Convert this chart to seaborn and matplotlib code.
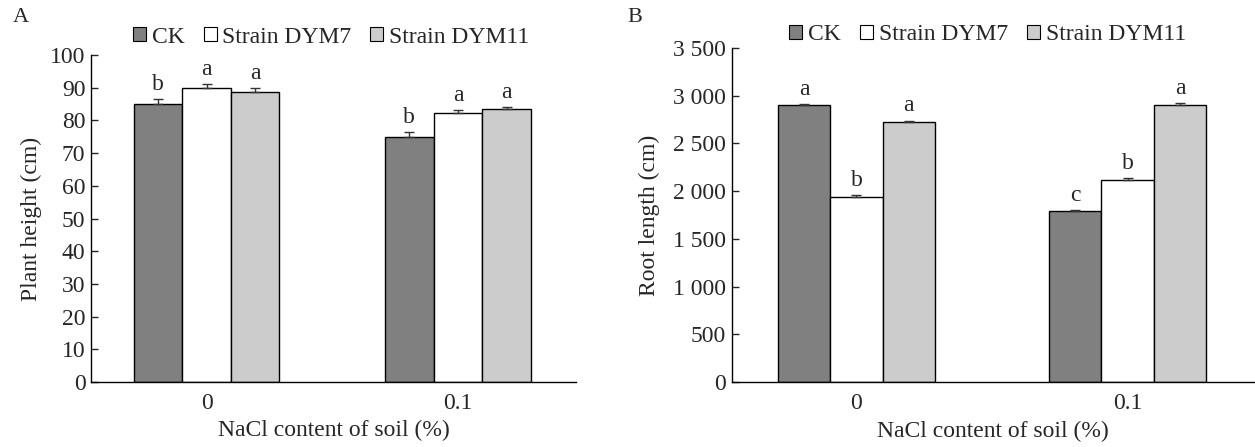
import numpy as np
import pandas as pd
import matplotlib
matplotlib.use("Agg")
import matplotlib.pyplot as plt
import seaborn as sns
from matplotlib.patches import Patch
from matplotlib.ticker import FuncFormatter

# values
nacl = ["0", "0.1"]
treatments = ["CK", "Strain DYM7", "Strain DYM11"]
colors = ["#808080", "#ffffff", "#cccccc"]

height_mean = {"CK": [85.0, 75.0], "Strain DYM7": [90.0, 82.2], "Strain DYM11": [88.8, 83.4]}
height_err = {"CK": [1.5, 1.5], "Strain DYM7": [1.0, 1.0], "Strain DYM11": [1.0, 0.8]}
height_letters = {"CK": ["b", "b"], "Strain DYM7": ["a", "a"], "Strain DYM11": ["a", "a"]}

root_mean = {"CK": [2900, 1790], "Strain DYM7": [1940, 2120], "Strain DYM11": [2720, 2900]}
root_err = {"CK": [15, 15], "Strain DYM7": [15, 15], "Strain DYM11": [20, 25]}
root_letters = {"CK": ["a", "c"], "Strain DYM7": ["b", "b"], "Strain DYM11": ["a", "a"]}


def to_long(means):
    rows = []
    for t in treatments:
        for n, v in zip(nacl, means[t]):
            rows.append({"NaCl": n, "Treatment": t, "value": v})
    return pd.DataFrame(rows)


sns.set_style("white")
plt.rcParams["font.family"] = ["Liberation Serif", "DejaVu Serif"]

fig = plt.figure(figsize=(12.55, 4.47), dpi=100)
ax1 = fig.add_axes([0.0725, 0.1454, 0.3865, 0.7315])
ax2 = fig.add_axes([0.583, 0.1454, 0.417, 0.7472])


def draw(ax, means, errs, letters, ylim, step, ylabel, ylab_x, leg_x, leg_y, fmt=None):
    df = to_long(means)
    sns.barplot(data=df, x="NaCl", y="value", hue="Treatment", order=nacl,
                hue_order=treatments, palette=colors, width=0.58, errorbar=None,
                edgecolor="black", linewidth=1.0, ax=ax, legend=False)
    for t, cont in zip(treatments, ax.containers):
        xs = [p.get_x() + p.get_width() / 2 for p in cont.patches]
        ys = [p.get_height() for p in cont.patches]
        e = errs[t]
        ax.errorbar(xs, ys, yerr=[np.zeros(len(e)), e], fmt="none", ecolor="#333333",
                    elinewidth=1, capsize=3.5, capthick=1)
        for x, y, ee, lab in zip(xs, ys, e, letters[t]):
            ax.annotate(lab, (x, y + ee), xytext=(0, 3), textcoords="offset points",
                        ha="center", va="bottom", fontsize=17)
    ax.set_ylim(*ylim)
    ax.set_xlim(-0.46, 1.47)
    ax.set_yticks(np.arange(ylim[0], ylim[1] + 1, step))
    if fmt is not None:
        ax.yaxis.set_major_formatter(FuncFormatter(fmt))
    sns.despine(ax=ax)
    for s in ["left", "bottom"]:
        ax.spines[s].set_color("black")
        ax.spines[s].set_linewidth(1.0)
    ax.tick_params(axis="y", direction="in", length=5, width=1, labelsize=17, pad=4, left=True)
    ax.tick_params(axis="x", length=0, labelsize=17, pad=8)
    ax.set_xlabel("NaCl content of soil (%)", fontsize=17)
    ax.xaxis.set_label_coords(0.5, -0.115)
    ax.set_ylabel(ylabel, fontsize=17)
    ax.yaxis.set_label_coords(ylab_x, 0.5)
    handles = [Patch(facecolor=c, edgecolor="black", linewidth=0.8, label=t)
               for c, t in zip(colors, treatments)]
    ax.legend(handles=handles, ncol=3, frameon=False, fontsize=17,
              loc="center left", bbox_to_anchor=(leg_x, leg_y),
              bbox_transform=fig.transFigure, borderpad=0, borderaxespad=0,
              handlelength=0.55, handleheight=0.55, handletextpad=0.25,
              columnspacing=0.8)


draw(ax1, height_mean, height_err, height_letters, (0, 100), 10,
     "Plant height (cm)", -0.100, 0.106, 0.917)
draw(ax2, root_mean, root_err, root_letters, (0, 3500), 500,
     "Root length (cm)", -0.136, 0.629, 0.922,
     fmt=lambda v, p: f"{int(v):,}".replace(",", " "))

fig.text(0.010, 0.96, "A", fontsize=16, va="center")
fig.text(0.500, 0.96, "B", fontsize=16, va="center")

fig.savefig("out.png", dpi=100)
